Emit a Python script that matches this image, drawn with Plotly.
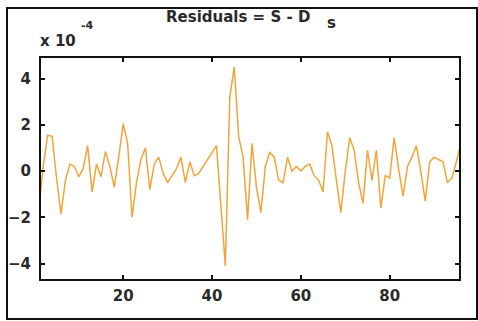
import plotly.graph_objects as go

# Sample index and residual values (units of 1e-4)
sample = list(range(1, 97))
residual = [
    -1.7, 0.2, 1.55, 1.5, -0.3, -1.85, -0.4, 0.3, 0.2, -0.25,
    0.1, 1.1, -0.9, 0.3, -0.25, 0.85, 0.2, -0.7, 0.6, 2.05,
    1.2, -2.0, -0.5, 0.5, 1.0, -0.8, 0.3, 0.6, -0.1, -0.5,
    -0.2, 0.1, 0.6, -0.5, 0.4, -0.2, -0.1, 0.2, 0.5, 0.8,
    1.1, -1.5, -4.1, 3.2, 4.5, 1.5, 0.6, -2.1, 1.2, -0.7,
    -1.8, 0.2, 0.8, 0.6, -0.4, -0.5, 0.6, 0.0, 0.2, 0.0,
    0.2, 0.3, -0.2, -0.4, -0.9, 1.7, 1.1, -0.4, -1.8, 0.0,
    1.45, 0.9, -0.5, -1.4, 0.9, -0.4, 0.9, -1.6, -0.2, -0.3,
    1.45, 0.1, -1.1, 0.2, 0.6, 1.1, 0.0, -1.3, 0.4, 0.6,
    0.5, 0.4, -0.5, -0.3, 0.4, 1.2,
]
x_ticks = [20, 40, 60, 80]
y_ticks = [-4, -2, 0, 2, 4]

TEXT = "#2a2a2a"
FONT = "DejaVu Sans"

fig = go.Figure()
fig.add_trace(go.Scatter(
    x=sample, y=residual, mode="lines",
    line=dict(color="#F2A43A", width=1.5),
    hoverinfo="skip",
))

axis_common = dict(
    showgrid=False, zeroline=False, showline=True, linecolor="#111111",
    linewidth=2, mirror="ticks", ticks="inside", ticklen=4, tickwidth=2,
    tickcolor="#111111", automargin=False,
    tickfont=dict(family=FONT, size=15, color=TEXT, weight="bold"),
)

L, R, T, B = 41, 19, 58, 42
W, H = 478 - L - R, 321 - T - B

fig.update_layout(
    width=478, height=321,
    margin=dict(l=L, r=R, t=T, b=B),
    paper_bgcolor="white", plot_bgcolor="white",
    showlegend=False,
    xaxis=dict(range=[1.5, 95.6], tickvals=x_ticks, ticklabelstandoff=2,
               **axis_common),
    yaxis=dict(range=[-4.67, 4.89], tickvals=y_ticks, ticklabelstandoff=5,
               **axis_common),
)

# Pixel -> paper coordinate helpers
def px(x):
    return (x - L) / W
def py(y):
    return (321 - B - y) / H

# Outer frame around the whole figure
fig.add_shape(type="rect", xref="paper", yref="paper",
              x0=px(7), x1=px(477), y0=py(319), y1=py(8),
              line=dict(color="#111111", width=2))

# Title with subscript and axis exponent label
fig.add_annotation(xref="paper", yref="paper", x=px(238), y=py(17),
                   text="<b>Residuals = S - D</b>", showarrow=False,
                   font=dict(family=FONT, size=15, color=TEXT),
                   xanchor="center", yanchor="middle")
fig.add_annotation(xref="paper", yref="paper", x=px(331), y=py(23),
                   text="<b>s</b>", showarrow=False,
                   font=dict(family=FONT, size=15, color=TEXT),
                   xanchor="center", yanchor="middle")
fig.add_annotation(xref="paper", yref="paper", x=px(58), y=py(41),
                   text="<b>x 10</b>", showarrow=False,
                   font=dict(family=FONT, size=15, color=TEXT),
                   xanchor="center", yanchor="middle")
fig.add_annotation(xref="paper", yref="paper", x=px(87), y=py(25),
                   text="<b>-4</b>", showarrow=False,
                   font=dict(family=FONT, size=11, color=TEXT),
                   xanchor="center", yanchor="middle")

fig.write_html("out.html")
